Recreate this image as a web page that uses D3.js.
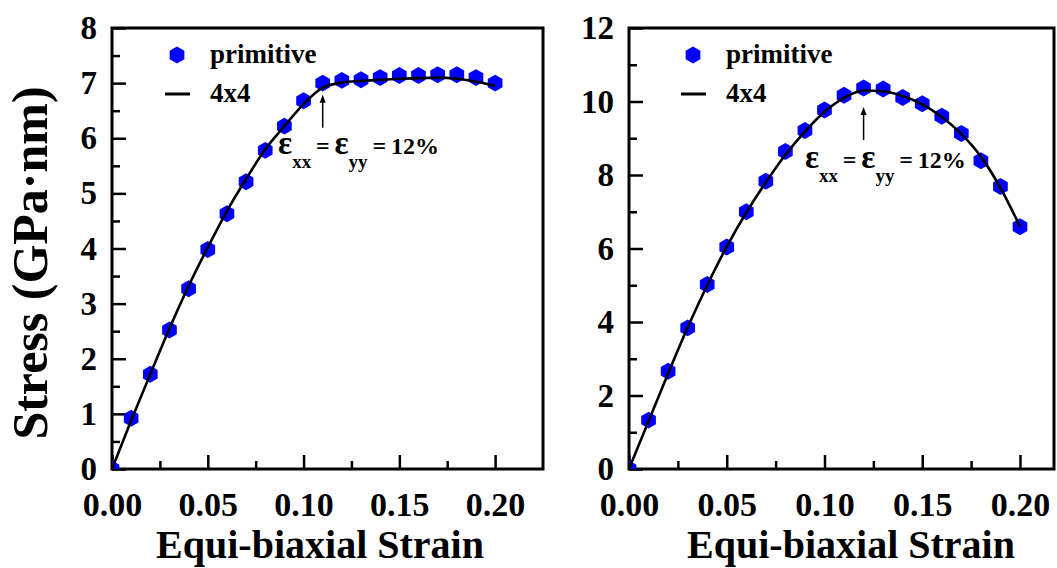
<!DOCTYPE html>
<html>
<head>
<meta charset="utf-8">
<script src="https://cdn.jsdelivr.net/npm/d3@7"></script>
<style>
  html, body { margin: 0; padding: 0; background: #fff; }
  svg { display: block; }
  svg text { font-family: "Liberation Serif", "Tinos", "Times New Roman", Times, "DejaVu Serif", serif; font-weight: 700; fill: #000; }
</style>
</head>
<body>
<svg id="chart" width="1057" height="568"></svg>
<script>
// ---------------- data ----------------
const strain = [0.00, 0.01, 0.02, 0.03, 0.04, 0.05, 0.06, 0.07, 0.08, 0.09, 0.10,
                0.11, 0.12, 0.13, 0.14, 0.15, 0.16, 0.17, 0.18, 0.19, 0.20];

// left panel
const leftPrimitive = [0.00, 0.92, 1.72, 2.52, 3.27, 3.98, 4.63, 5.21, 5.78, 6.22, 6.68,
                       7.00, 7.05, 7.06, 7.10, 7.14, 7.14, 7.15, 7.15, 7.10, 7.00];
const left4x4 =       [0.00, 0.88, 1.72, 2.55, 3.32, 4.02, 4.68, 5.26, 5.80, 6.22, 6.62,
                       6.92, 7.01, 7.04, 7.06, 7.08, 7.09, 7.10, 7.08, 7.03, 6.95];

// right panel
const rightPrimitive = [0.00, 1.33, 2.66, 3.84, 5.02, 6.04, 7.00, 7.83, 8.64, 9.21, 9.77,
                        10.17, 10.37, 10.34, 10.11, 9.94, 9.60, 9.13, 8.39, 7.69, 6.59];
const right4x4 =       [0.00, 1.30, 2.60, 3.85, 5.00, 6.05, 6.98, 7.80, 8.55, 9.18, 9.72,
                        10.10, 10.30, 10.28, 10.15, 9.92, 9.58, 9.12, 8.50, 7.65, 6.60];

const xTicks = [0.00, 0.05, 0.10, 0.15, 0.20];
const xMinorTicks = [0.025, 0.075, 0.125, 0.175];
const leftYTicks = [0, 1, 2, 3, 4, 5, 6, 7, 8];
const leftYMinor = [0.5, 1.5, 2.5, 3.5, 4.5, 5.5, 6.5, 7.5];
const rightYTicks = [0, 2, 4, 6, 8, 10, 12];
const rightYMinor = [1, 3, 5, 7, 9, 11];

const legendLabels = ["primitive", "4x4"];
const xTitle = "Equi-biaxial Strain";
const yTitle = "Stress (GPa\u00B7nm)";

// ---------------- drawing ----------------
const FONT = "'Liberation Serif', 'Tinos', 'Times New Roman', Times, 'DejaVu Serif', serif";
const svg = d3.select("#chart");
const hex = d3.symbol().type({
  draw(ctx, size) {
    const r = Math.sqrt(size);
    for (let i = 0; i < 6; i++) {
      const a = -Math.PI / 2 + i * Math.PI / 3;
      const x = r * Math.cos(a), y = r * Math.sin(a);
      if (i === 0) ctx.moveTo(x, y); else ctx.lineTo(x, y);
    }
    ctx.closePath();
  }
}).size(72);

function panel(cfg) {
  const g = svg.append("g").attr("transform", `translate(${cfg.left},${cfg.top})`);
  const x = d3.scaleLinear().domain(cfg.xDomain).range([0, cfg.width]);
  const y = d3.scaleLinear().domain(cfg.yDomain).range([cfg.height, 0]);

  const clipId = "clip-" + cfg.id;
  g.append("clipPath").attr("id", clipId)
    .append("rect").attr("width", cfg.width).attr("height", cfg.height);

  // minor ticks
  g.append("g").attr("transform", `translate(0,${cfg.height})`)
    .call(d3.axisBottom(x).tickValues(xMinorTicks).tickSize(-8).tickFormat(""))
    .call(s => s.select(".domain").remove());
  g.append("g")
    .call(d3.axisLeft(y).tickValues(cfg.yMinor).tickSize(-8).tickFormat(""))
    .call(s => s.select(".domain").remove());

  // major ticks
  const xa = g.append("g").attr("transform", `translate(0,${cfg.height})`)
    .call(d3.axisBottom(x).tickValues(xTicks).tickSize(-14).tickPadding(23).tickFormat(d3.format(".2f")));
  xa.select(".domain").remove();
  xa.selectAll(".tick text").attr("font-size", 34);

  const ya = g.append("g")
    .call(d3.axisLeft(y).tickValues(cfg.yTicks).tickSize(-14).tickPadding(15).tickFormat(d3.format("d")));
  ya.select(".domain").remove();
  ya.selectAll(".tick text").attr("font-size", 33);

  g.selectAll("g").attr("font-family", FONT);
  g.selectAll(".tick text").style("font-weight", "700");
  g.selectAll(".tick line").attr("stroke", "#000").attr("stroke-width", 2.5);

  // frame
  g.append("rect").attr("width", cfg.width).attr("height", cfg.height)
    .attr("fill", "none").attr("stroke", "#000").attr("stroke-width", 3);

  // markers
  const data = strain.map((s, i) => ({ s, p: cfg.prim[i], l: cfg.line[i] }));
  g.append("g").attr("clip-path", `url(#${clipId})`)
    .selectAll("path").data(data).join("path")
    .attr("d", hex)
    .attr("transform", d => `translate(${x(d.s)},${y(d.p)})`)
    .attr("fill", "#0000ff");

  // line
  g.append("path").datum(data)
    .attr("d", d3.line().x(d => x(d.s)).y(d => y(d.l)).curve(d3.curveMonotoneX))
    .attr("fill", "none").attr("stroke", "#000").attr("stroke-width", 2.6);

  // legend
  const lg = g.append("g").attr("transform", `translate(${cfg.legendX},0)`);
  lg.append("path").attr("d", hex).attr("transform", "translate(0,27)").attr("fill", "#0000ff");
  lg.append("text").attr("x", 33).attr("y", 35).attr("font-size", 27).text(legendLabels[0]);
  lg.append("line").attr("x1", -12).attr("x2", 13).attr("y1", 66).attr("y2", 66)
    .attr("stroke", "#000").attr("stroke-width", 3);
  lg.append("text").attr("x", 33).attr("y", 74).attr("font-size", 27).text(legendLabels[1]);

  // annotation arrow
  const ax = x(cfg.arrowX);
  g.append("line").attr("x1", ax).attr("x2", ax)
    .attr("y1", y(cfg.arrowFrom)).attr("y2", y(cfg.arrowTo) + 6)
    .attr("stroke", "#000").attr("stroke-width", 1.5);
  g.append("path")
    .attr("d", `M${ax},${y(cfg.arrowTo)} l-3,8 l6,0 z`)
    .attr("fill", "#000");

  const t = g.append("text").attr("x", x(cfg.textX)).attr("y", y(cfg.textY));
  t.append("tspan").attr("font-size", 33).text("\u03B5");
  t.append("tspan").attr("font-size", 19).attr("dy", 14).text("xx");
  t.append("tspan").attr("font-size", 24).attr("dy", -14).text("\u2009=\u2009");
  t.append("tspan").attr("font-size", 33).text("\u03B5");
  t.append("tspan").attr("font-size", 19).attr("dy", 14).text("yy");
  t.append("tspan").attr("font-size", 24).attr("dy", -14).text("\u2009=\u200912%");

  // x title
  svg.append("text").attr("x", cfg.xTitleX).attr("y", 558)
    .attr("text-anchor", "middle").attr("font-size", 40).text(xTitle);
  return g;
}

panel({ id: "L", left: 112, top: 28, width: 431, height: 441,
        xDomain: [0, 0.225], yDomain: [0, 8],
        yTicks: leftYTicks, yMinor: leftYMinor,
        prim: leftPrimitive, line: left4x4, legendX: 65,
        arrowX: 0.11, arrowFrom: 6.19, arrowTo: 6.79, textX: 0.0867, textY: 5.72,
        xTitleX: 320 });

panel({ id: "R", left: 629, top: 28, width: 425, height: 441,
        xDomain: [0, 0.2174], yDomain: [0, 12],
        yTicks: rightYTicks, yMinor: rightYMinor,
        prim: rightPrimitive, line: right4x4, legendX: 64,
        arrowX: 0.12, arrowFrom: 8.95, arrowTo: 9.85, textX: 0.09, textY: 8.19,
        xTitleX: 851 });

// y title
svg.append("text")
  .attr("transform", "translate(47,263) rotate(-90)")
  .attr("text-anchor", "middle").attr("font-size", 50).text(yTitle);
</script>
</body>
</html>
